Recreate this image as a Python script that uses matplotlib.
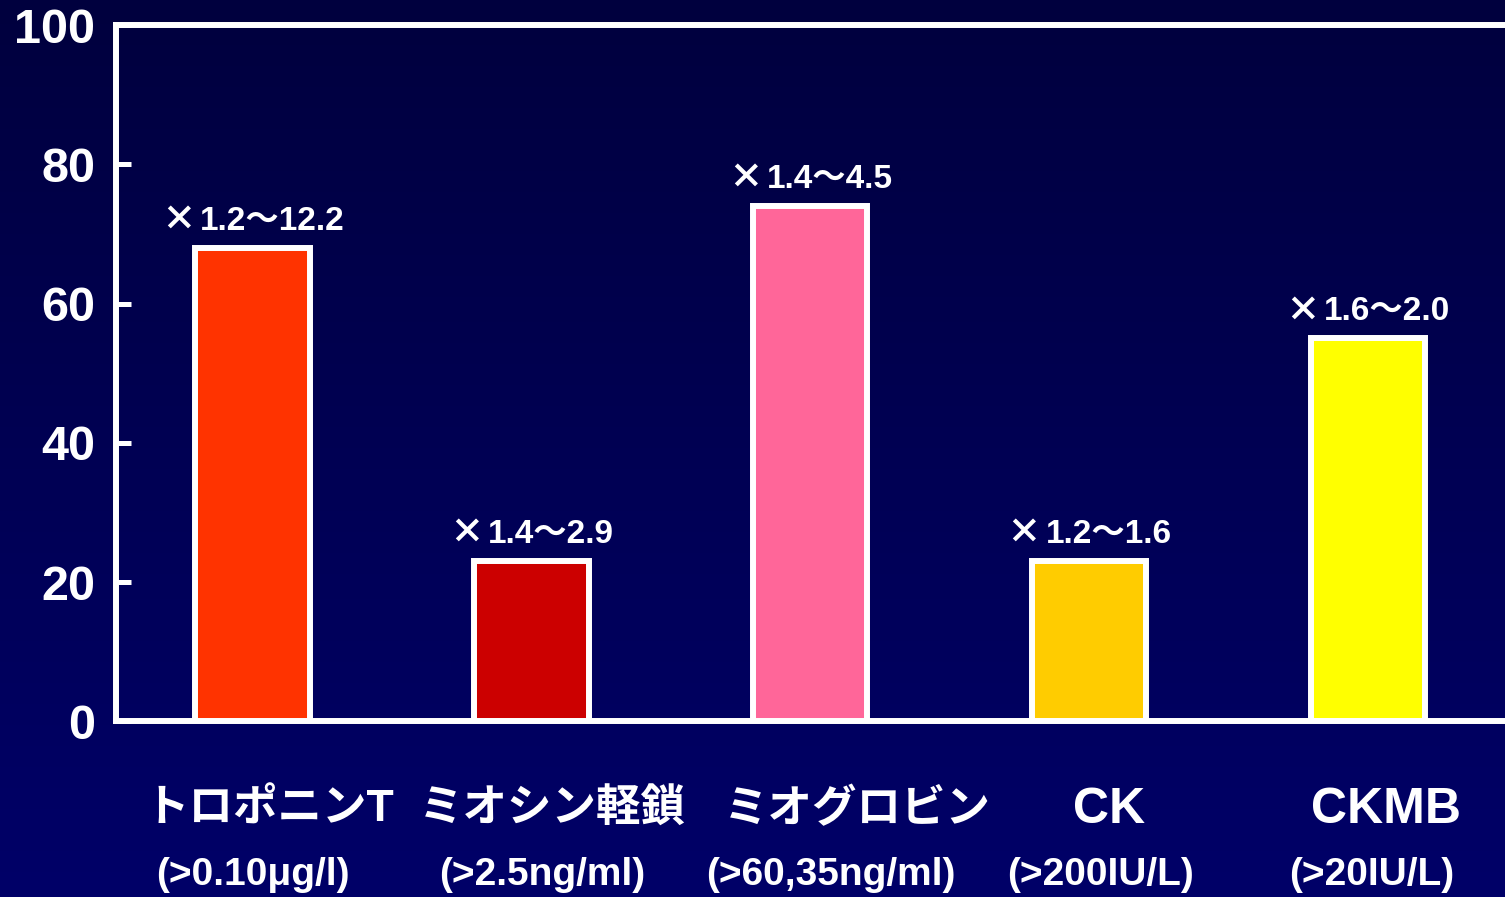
import numpy as np
import matplotlib
matplotlib.use("Agg")
import matplotlib.pyplot as plt
from matplotlib.offsetbox import TextArea, HPacker, AnnotationBbox

# marker positivity (%) and fold-rise range per marker
names = ["トロポニンT", "ミオシン軽鎖", "ミオグロビン", "CK", "CKMB"]
cutoffs = ["(>0.10μg/l)", "(>2.5ng/ml)", "(>60,35ng/ml)", "(>200IU/L)", "(>20IU/L)"]
values = [68, 23, 74, 23, 55]
ratios = ["×1.2〜12.2", "×1.4〜2.9", "×1.4〜4.5", "×1.2〜1.6", "×1.6〜2.0"]
colors = ["#FF3300", "#CC0000", "#FF6699", "#FFCC00", "#FFFF00"]
yticks = [0, 20, 40, 60, 80, 100]

# small nudges of the two label rows, in bar units
name_dx = [0.06, 0.075, 0.17, 0.07, 0.065]
cut_dx = [0.0, 0.04, 0.075, 0.04, 0.015]

FONT = ["Liberation Sans", "Noto Sans CJK JP", "DejaVu Sans"]
CJK = ["Noto Sans CJK JP", "DejaVu Sans"]
plt.rcParams["font.family"] = FONT

fig = plt.figure(figsize=(15.05, 8.97), dpi=100)

# navy vertical gradient behind everything
bg = fig.add_axes([0, 0, 1, 1], zorder=-10)
grad = np.linspace(0, 1, 256).reshape(-1, 1)
top = np.array([0, 0, 62]) / 255
bot = np.array([0, 0, 104]) / 255
img = top + (bot - top) * grad[..., None]
bg.imshow(img, aspect="auto", extent=[0, 1, 0, 1])
bg.axis("off")

ax = fig.add_axes([0.0771, 0.1957, 0.93, 0.7764])
ax.set_facecolor("none")
x = np.arange(len(values))
ax.bar(x, values, width=0.41, color=colors, edgecolor="white", linewidth=4.3, zorder=3)
ax.set_xlim(-0.49, 4.53)
ax.set_ylim(0, 100)

for s in ["left", "top", "bottom"]:
    ax.spines[s].set_color("white")
    ax.spines[s].set_linewidth(4.3)
ax.spines["right"].set_visible(False)

ax.set_yticks(yticks)
ax.set_yticklabels([str(v) for v in yticks], fontsize=35, fontweight="bold", color="white")
ax.tick_params(axis="y", direction="in", length=11, width=3.6, color="white", pad=15)
ax.set_xticks([])

# "×" from the CJK face (wide), numbers in the sans face
for xi, v, r in zip(x, values, ratios):
    mark = TextArea(r[0], textprops=dict(fontsize=25, fontweight="heavy", color="white", family=CJK))
    rest = TextArea(r[1:], textprops=dict(fontsize=24, fontweight="bold", color="white", family=FONT))
    pack = HPacker(children=[mark, rest], sep=3, pad=0, align="baseline")
    ab = AnnotationBbox(pack, (xi, v), xybox=(0, 8), boxcoords="offset points",
                        box_alignment=(0.5, 0), frameon=False, zorder=4)
    ax.add_artist(ab)

for xi, n, c, dn, dc in zip(x, names, cutoffs, name_dx, cut_dx):
    fs = 36 if n.isascii() else 32
    ax.text(xi + dn, -12.7, n, ha="center", va="center", fontsize=fs,
            fontweight="bold", color="white", family=FONT, clip_on=False)
    ax.text(xi + dc, -22.0, c, ha="center", va="center", fontsize=28,
            fontweight="bold", color="white", family=FONT, clip_on=False)

fig.savefig("out.png", dpi=100)
